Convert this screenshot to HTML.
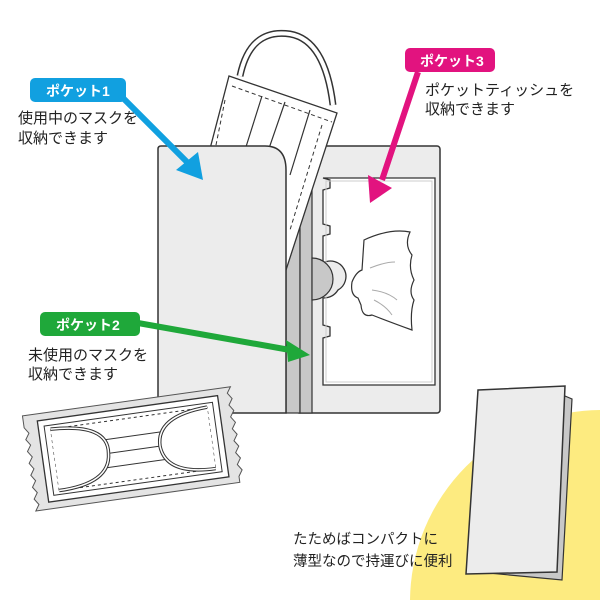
<!DOCTYPE html>
<html><head><meta charset="utf-8"><style>
html,body{margin:0;padding:0;width:600px;height:600px;overflow:hidden;background:#fff}
svg{display:block}
text{font-family:"Liberation Sans","Noto Sans CJK JP",sans-serif;fill:#222}
</style></head><body>
<svg width="600" height="600" viewBox="0 0 600 600">
<circle cx="602" cy="602" r="192" fill="#fdeb80"/>

<!-- right panel -->
<rect x="296" y="146" width="144" height="267" rx="3" fill="#ececec" stroke="#333" stroke-width="1.5"/>
<path d="M323 178 H435 V385 H323 V338 L330 336 V327 L323 325 V298 Q333 298 338 290 A15 15 0 0 0 323 263 V236 L330 234 V226 L323 224 V190 L330 188 V180 L323 178Z" fill="#fff" stroke="#333" stroke-width="1.3"/>
<rect x="326" y="181" width="106" height="201" fill="none" stroke="#ccc" stroke-width="1"/>
<!-- center strip -->
<rect x="286" y="180" width="14" height="233" fill="#c8c8c8" stroke="#333" stroke-width="1.2"/>
<rect x="300" y="180" width="12" height="233" fill="#c8c8c8" stroke="#333" stroke-width="1.2"/>
<path d="M312 258 A15 15 0 0 1 312 300Z" fill="#c8c8c8" stroke="#333" stroke-width="1.2"/>
<!-- tissue -->
<path d="M364 240 Q390 228 410 232 Q404 245 412 255 Q408 268 414 280 Q408 292 414 300 Q410 312 412 330 Q390 322 372 315 Q362 318 361 305 L358 298 Q350 295 352 282 Q356 272 362 270 Z" fill="#fff" stroke="#333" stroke-width="1.2"/>
<path d="M370 268 Q385 262 395 262 M372 290 Q388 292 397 300 M374 300 Q386 306 392 315" stroke="#aaa" fill="none"/>

<!-- mask on top -->
<path d="M240 76 Q250 28 290 34 Q325 40 333 105" fill="none" stroke="#333" stroke-width="7"/>
<path d="M240 76 Q250 28 290 34 Q325 40 333 105" fill="none" stroke="#fff" stroke-width="4"/>
<path d="M229 76 L337 113 L286 270 L205 168 Z" fill="#fff" stroke="#333" stroke-width="1.3"/>
<path d="M232 86 L332 122 M225 100 L215 150 M322 125 L290 230" stroke="#333" stroke-dasharray="4 3" fill="none"/>
<path d="M262 96 L245 150 M285 102 L265 160 M310 110 L290 175" stroke="#333" fill="none" stroke-width="1.2"/>

<!-- left panel -->
<path d="M158 149 Q158 146 161 146 H265 Q286 146 286 170 V413 H161 Q158 413 158 410Z" fill="#ececec" stroke="#333" stroke-width="1.5"/>

<!-- labels -->
<rect x="30" y="78" width="96" height="24" rx="5" fill="#11a0e0"/>
<text x="46" y="96" font-size="14" font-weight="bold" style="fill:#fff">ポケット1</text>
<text x="18" y="123" font-size="15">使用中のマスクを</text>
<text x="18" y="143" font-size="15">収納できます</text>
<path d="M120 95 L190 165" stroke="#11a0e0" stroke-width="6"/>
<path d="M176 170 L203 180 L198 152 Z" fill="#11a0e0"/>

<rect x="405" y="48" width="90" height="24" rx="5" fill="#e2137f"/>
<text x="420" y="66" font-size="14" font-weight="bold" style="fill:#fff">ポケット3</text>
<text x="425" y="95" font-size="15">ポケットティッシュを</text>
<text x="425" y="114" font-size="15">収納できます</text>
<path d="M418 72 L382 180" stroke="#e2137f" stroke-width="6"/>
<path d="M368 175 L370 203 L392 188 Z" fill="#e2137f"/>

<rect x="40" y="312" width="100" height="24" rx="5" fill="#1fa83a"/>
<text x="56" y="330" font-size="14" font-weight="bold" style="fill:#fff">ポケット2</text>
<text x="28" y="360" font-size="15">未使用のマスクを</text>
<text x="28" y="379" font-size="15">収納できます</text>
<path d="M138 323 L290 350" stroke="#1fa83a" stroke-width="6"/>
<path d="M286 340 L310 355 L288 362 Z" fill="#1fa83a"/>

<!-- mask package -->
<g transform="translate(2 8) rotate(-8 130 440)">
<path d="M26 393 H236 l-4 6 4 6 -4 6 4 6 -4 6 4 6 -4 6 4 6 -4 6 4 6 -4 6 4 6 -4 6 4 6 -4 6 V489 H26 l4 -6 -4 -6 4 -6 -4 -6 4 -6 -4 -6 4 -6 -4 -6 4 -6 -4 -6 4 -6 -4 -6 4 -6 -4 -6Z" fill="#e4e4e4" stroke="#555" stroke-width="1"/>
<rect x="40" y="400" width="182" height="82" fill="#fff" stroke="#333" stroke-width="1.3"/>
<rect x="46" y="406" width="170" height="70" fill="none" stroke="#333"/>
<rect x="52" y="410" width="158" height="62" fill="none" stroke="#333" stroke-dasharray="3 3"/>
<path d="M52 428 H210 M52 442 H210 M52 456 H210" stroke="#333"/>
<path d="M52 410 Q110 412 106 442 Q104 472 52 472" fill="#fff" stroke="#333" stroke-width="3.5"/>
<path d="M52 410 Q110 412 106 442 Q104 472 52 472" fill="none" stroke="#fff" stroke-width="1.5"/>
<path d="M210 410 Q158 412 158 442 Q160 472 210 472" fill="#fff" stroke="#333" stroke-width="3.5"/>
<path d="M210 410 Q158 412 158 442 Q160 472 210 472" fill="none" stroke="#fff" stroke-width="1.5"/>
</g>

<!-- folded case -->
<path d="M565 396 L572 399 L562 580 L478 572 Z" fill="#c8c8c8" stroke="#333" stroke-width="1.2"/>
<path d="M478 390 L565 386 L557 572 L466 574 Z" fill="#ececec" stroke="#333" stroke-width="1.5"/>

<text x="293" y="544" font-size="14.5">たためばコンパクトに</text>
<text x="293" y="566" font-size="14.5">薄型なので持運びに便利</text>
</svg>
</body></html>
